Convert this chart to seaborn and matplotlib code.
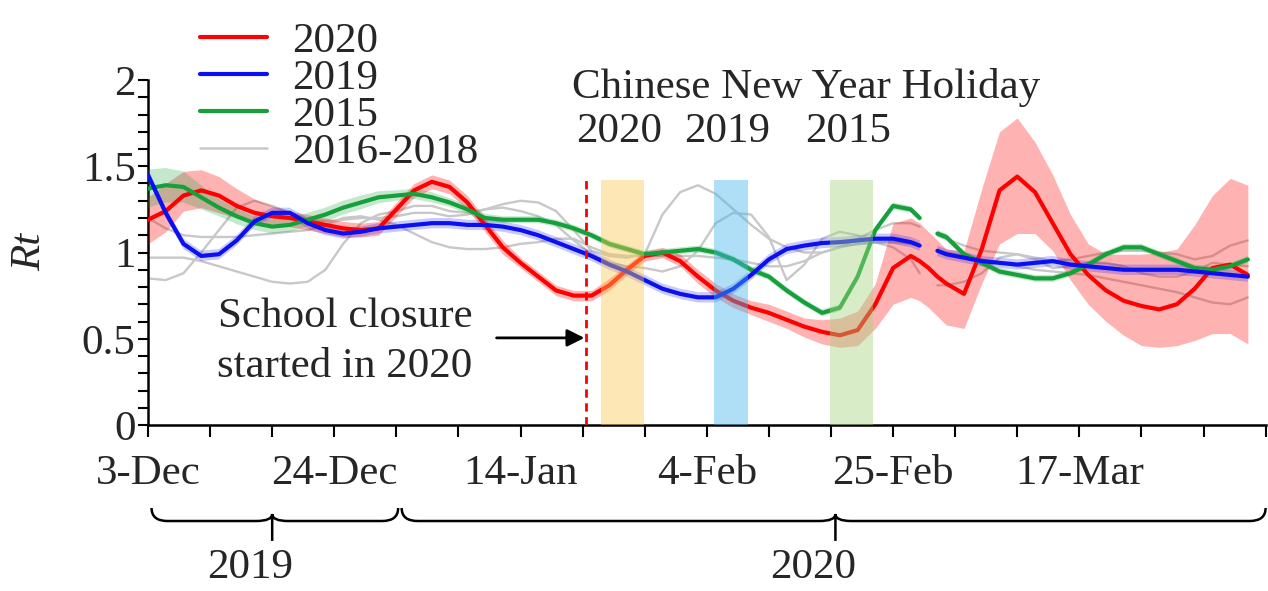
import numpy as np
import pandas as pd
import matplotlib
matplotlib.use("Agg")
import matplotlib.pyplot as plt
import matplotlib.transforms as mtransforms
from matplotlib.path import Path
from matplotlib.patches import PathPatch
from matplotlib.lines import Line2D
import seaborn as sns

NaN = np.nan

# Days since 3 Dec 2019 (two-day grid, single days around 29 Feb)
days = list(range(0, 87, 2)) + [87, 88, 89] + list(range(90, 125, 2))

rt_2020 = [1.19, 1.24, 1.33, 1.36, 1.33, 1.27, 1.23, 1.21, 1.20, 1.18,
           1.16, 1.14, 1.13, 1.14, 1.25, 1.36, 1.41, 1.38, 1.29, 1.16,
           1.03, 0.94, 0.86, 0.78, 0.75, 0.75, 0.81, 0.90, 0.98, 1.00,
           0.95, 0.86, 0.78, 0.72, 0.68, 0.65, 0.61, 0.57, 0.54, 0.52,
           0.55, 0.70, 0.91, 0.98, 0.95, 0.91, 0.86, 0.82, 0.76, 1.02,
           1.36, 1.44, 1.35, 1.17, 0.99, 0.87, 0.78, 0.72, 0.69, 0.67,
           0.70, 0.79, 0.91, 0.93, 0.87]
rt_2020_high = [1.32, 1.40, 1.47, 1.48, 1.44, 1.37, 1.31, 1.27, 1.24, 1.22,
                1.20, 1.18, 1.17, 1.18, 1.29, 1.40, 1.45, 1.42, 1.33, 1.20,
                1.07, 0.97, 0.89, 0.81, 0.78, 0.78, 0.85, 0.93, 1.01, 1.03,
                0.99, 0.90, 0.82, 0.76, 0.72, 0.70, 0.66, 0.62, 0.61, 0.62,
                0.66, 0.82, 1.17, 1.20, 1.17, 1.12, 1.07, 1.02, 1.01, 1.37,
                1.70, 1.78, 1.64, 1.45, 1.22, 1.05, 0.99, 0.99, 0.99, 1.00,
                1.02, 1.16, 1.33, 1.43, 1.39]
rt_2020_low = [1.05, 1.12, 1.24, 1.26, 1.23, 1.20, 1.17, 1.16, 1.15, 1.13,
               1.11, 1.09, 1.09, 1.10, 1.21, 1.32, 1.37, 1.34, 1.25, 1.12,
               0.99, 0.91, 0.83, 0.75, 0.72, 0.72, 0.78, 0.87, 0.95, 0.97,
               0.92, 0.82, 0.74, 0.68, 0.64, 0.60, 0.56, 0.51, 0.47, 0.45,
               0.46, 0.56, 0.70, 0.74, 0.72, 0.68, 0.63, 0.58, 0.56, 0.82,
               1.05, 1.11, 1.11, 1.01, 0.84, 0.70, 0.60, 0.52, 0.46, 0.45,
               0.46, 0.49, 0.53, 0.53, 0.47]

rt_2019 = [1.45, 1.23, 1.05, 0.98, 0.99, 1.07, 1.18, 1.23, 1.23, 1.17,
           1.13, 1.11, 1.12, 1.14, 1.15, 1.16, 1.17, 1.17, 1.16, 1.16,
           1.15, 1.13, 1.10, 1.06, 1.02, 0.98, 0.93, 0.89, 0.84, 0.79,
           0.76, 0.74, 0.74, 0.79, 0.87, 0.96, 1.02, 1.04, 1.055, 1.06,
           1.07, 1.08, 1.08, 1.06, 1.04, NaN, 1.01, 0.99, 0.97, 0.95,
           0.94, 0.93, 0.94, 0.95, 0.93, 0.92, 0.91, 0.90, 0.90, 0.90,
           0.90, 0.89, 0.88, 0.87, 0.86]
ci_2019 = 0.03

rt_2015 = [1.37, 1.39, 1.38, 1.32, 1.26, 1.21, 1.17, 1.15, 1.16, 1.19,
           1.22, 1.26, 1.29, 1.32, 1.33, 1.34, 1.32, 1.29, 1.25, 1.20,
           1.19, 1.19, 1.19, 1.17, 1.14, 1.10, 1.05, 1.02, 0.99, 1.00,
           1.01, 1.02, 1.00, 0.96, 0.90, 0.86, 0.78, 0.71, 0.65, 0.68,
           0.86, 1.13, 1.27, 1.25, 1.20, NaN, 1.11, 1.09, 0.99, 0.94,
           0.89, 0.87, 0.85, 0.85, 0.88, 0.93, 0.99, 1.03, 1.03, 0.99,
           0.95, 0.91, 0.90, 0.92, 0.96]
ci_2015 = [0.11, 0.10, 0.09, 0.07, 0.05, 0.045, 0.04, 0.04, 0.04, 0.04,
           0.04, 0.04, 0.04, 0.035, 0.03, 0.03, 0.03, 0.025, 0.025, 0.025,
           0.02, 0.02, 0.02, 0.02, 0.02, 0.02, 0.02, 0.02, 0.02, 0.02,
           0.02, 0.02, 0.02, 0.02, 0.02, 0.02, 0.02, 0.02, 0.02, 0.02,
           0.02, 0.02, 0.02, 0.02, 0.02, NaN, 0.02, 0.02, 0.02, 0.02,
           0.02, 0.02, 0.02, 0.02, 0.02, 0.02, 0.02, 0.02, 0.02, 0.02,
           0.02, 0.02, 0.02, 0.02, 0.02]

rt_2016 = [0.97, 0.97, 0.97, 0.95, 0.92, 0.89, 0.86, 0.83, 0.82, 0.83,
           0.90, 1.05, 1.17, 1.22, 1.24, 1.27, 1.27, 1.24, 1.23, 1.25,
           1.28, 1.30, 1.29, 1.24, 1.13, 1.01, 0.98, 0.97, 0.99, 1.22,
           1.35, 1.39, 1.34, 1.25, 1.16, 1.08, 1.03, 1.00, 1.00, 1.03,
           1.08, 1.13, 1.17, 1.17, 1.15, NaN, 1.10, 1.08, 1.04, 1.01,
           1.00, 0.99, 0.97, 0.95, 0.96, 0.98, 1.00, 1.01, 1.01, 1.00,
           0.99, 0.96, 0.98, 1.04, 1.07]
rt_2017 = [0.85, 0.84, 0.88, 1.00, 1.13, 1.26, 1.30, 1.27, 1.23, 1.19,
           1.18, 1.19, 1.20, 1.20, 1.21, 1.23, 1.23, 1.21, 1.22, 1.25,
           1.26, 1.24, 1.21, 1.16, 1.07, 0.99, 0.94, 0.92, 0.91, 0.89,
           0.92, 1.01, 1.17, 1.23, 1.22, 1.09, 0.84, 0.93, 1.08, 1.12,
           1.10, 1.06, 1.03, 0.96, 0.88, NaN, 0.81, 0.81, 0.83, 0.88,
           0.97, 0.99, 0.96, 0.91, 0.92, 0.94, 0.94, 0.92, 0.88, 0.86,
           0.86, 0.89, 0.94, 0.93, 0.92]
rt_2018 = [1.20, 1.14, 1.10, 1.09, 1.09, 1.09, 1.10, 1.11, 1.12, 1.13,
           1.16, 1.20, 1.21, 1.19, 1.16, 1.11, 1.06, 1.03, 1.02, 1.02,
           1.03, 1.05, 1.06, 1.08, 1.08, 1.03, 0.99, 0.98, 0.98, 0.98,
           0.98, 0.98, 0.97, 0.96, 0.94, 0.92, 0.92, 0.95, 1.00, 1.03,
           1.05, 1.06, 1.06, 1.05, 1.04, NaN, 1.01, 1.00, 0.98, 0.96,
           0.94, 0.92, 0.90, 0.89, 0.88, 0.87, 0.85, 0.83, 0.81, 0.79,
           0.77, 0.74, 0.71, 0.70, 0.74]

tick_days = [0, 21, 42, 63, 84, 105]
tick_labels = ["3-Dec", "24-Dec", "14-Jan", "4-Feb", "25-Feb", "17-Mar"]
closure_day = 49.4
holidays = [("2020", 51.1, 55.9, "#f9c74f"),
            ("2019", 63.8, 67.6, "#3fb5ea"),
            ("2015", 76.9, 81.7, "#a6d47e")]
season_groups = [("2019", 0.4, 28.2, 14.0), ("2020", 28.6, 126.0, 77.5)]

RED, BLUE, GREEN, GRAY = "#ff0000", "#0a10f0", "#16a03c", "#c8c8c8"

sns.set_theme(style="ticks")
plt.rcParams["font.family"] = ["Liberation Serif", "DejaVu Serif"]
FS = 31

fig = plt.figure(figsize=(12.68, 5.91), dpi=100)
ax = fig.add_axes([148 / 1268, 1 - 425 / 591, (1265.6 - 148) / 1268, 345 / 591])


def segments(name, values):
    """Long-format rows, split into separate units where a value is missing."""
    rows, seg = [], 0
    for d, v in zip(days, values):
        if np.isnan(v):
            seg += 1
            continue
        rows.append({"day": d, "rt": v, "series": name, "unit": f"{name}-{seg}"})
    return rows


gray_df = pd.DataFrame(segments("2016", rt_2016) + segments("2017", rt_2017)
                       + segments("2018", rt_2018))
sns.lineplot(data=gray_df, x="day", y="rt", units="unit", estimator=None,
             color=GRAY, lw=1.7, sort=False, ax=ax, legend=False, zorder=2,
             solid_joinstyle="round", solid_capstyle="round")

d_arr = np.array(days, dtype=float)
ax.fill_between(d_arr, rt_2020_low, rt_2020_high, color=RED, alpha=0.3, lw=0, zorder=3)
b = np.array(rt_2019)
ax.fill_between(d_arr, b - ci_2019, b + ci_2019, color=BLUE, alpha=0.22, lw=0, zorder=3)
g = np.array(rt_2015)
gc = np.array(ci_2015)
ax.fill_between(d_arr, g - gc, g + gc, color=GREEN, alpha=0.25, lw=0, zorder=3)

main_df = pd.DataFrame(segments("2020", rt_2020) + segments("2015", rt_2015)
                       + segments("2019", rt_2019))
sns.lineplot(data=main_df, x="day", y="rt", hue="series", units="unit",
             estimator=None, hue_order=["2020", "2015", "2019"],
             palette={"2020": RED, "2019": BLUE, "2015": GREEN},
             lw=3, sort=False, ax=ax, legend=False, zorder=4,
             solid_joinstyle="round", solid_capstyle="round")

# Chinese New Year holiday windows (translucent, over the curves)
for label, start, end, col in holidays:
    ax.axvspan(start, end, ymin=0, ymax=1.42 / 2, color=col, alpha=0.42, lw=0, zorder=5)
    ax.text((start + end) / 2 - 0.4, 1.64, label, ha="center", va="baseline", fontsize=FS)
ax.text(47.8, 1.895, "Chinese New Year Holiday", ha="left", va="baseline", fontsize=FS)

# School closure marker
ax.vlines(closure_day, 0, 1.42, colors=RED, linestyles=(0, (3, 2)), lw=2, zorder=6)
ax.annotate("", xy=(closure_day - 0.2, 0.505), xytext=(39.3, 0.505),
            arrowprops=dict(arrowstyle="-|>", color="black", lw=2,
                            mutation_scale=26, shrinkA=0, shrinkB=0))
ax.text(22.2, 0.568, "School closure", ha="center", va="baseline", fontsize=FS)
ax.text(22.2, 0.278, "started in 2020", ha="center", va="baseline", fontsize=FS)

# Axes
ax.set_xlim(0, 126)
ax.set_ylim(0, 2)
ax.set_xticks(tick_days)
ax.set_xticklabels(tick_labels)
ax.set_xticks(np.arange(0, 127, 7), minor=True)
ax.set_yticks([0, 0.5, 1, 1.5, 2])
ax.set_yticklabels(["0", "0.5", "1", "1.5", "2"])
ax.set_yticks(np.arange(0, 2.01, 0.1), minor=True)
ax.tick_params(axis="x", which="both", direction="out", length=8.5, width=1.5,
               color="black", labelsize=FS, pad=13)
ax.tick_params(axis="y", which="both", direction="out", length=7, width=1.5,
               color="black", labelsize=FS, pad=2)
ax.set_xlabel("")
ax.set_ylabel("")
for side in ("left", "bottom"):
    ax.spines[side].set_linewidth(1.8)
    ax.spines[side].set_color("black")
sns.despine(ax=ax)
ax.set_facecolor("white")

fig.text(30 / 1268, 1 - 252 / 591, "Rt", rotation=90, style="italic",
         ha="center", va="center", fontsize=FS)

# Season braces under the date axis
trans = mtransforms.blended_transform_factory(ax.transData, ax.transAxes)
yt, ym, yk, ytip = -0.2406, -0.2783, -0.258, -0.336
r = 1.8
for label, x0, x1, xm in season_groups:
    verts = [(x0, yt), (x0, ym), (x0 + r, ym),
             (xm - r, ym),
             (xm, ym), (xm, yk),
             (xm, ytip),
             (xm, yk),
             (xm, ym), (xm + r, ym),
             (x1 - r, ym),
             (x1, ym), (x1, yt)]
    codes = [Path.MOVETO, Path.CURVE3, Path.CURVE3,
             Path.LINETO,
             Path.CURVE3, Path.CURVE3,
             Path.LINETO,
             Path.MOVETO,
             Path.CURVE3, Path.CURVE3,
             Path.LINETO,
             Path.CURVE3, Path.CURVE3]
    ax.add_patch(PathPatch(Path(verts, codes), fill=False, lw=1.8, color="black",
                           transform=trans, clip_on=False))
    ax.text(xm - 2.5, -0.414, label, transform=trans, ha="center", va="center",
            fontsize=FS)

# Legend
handles = [Line2D([], [], color=RED, lw=3),
           Line2D([], [], color=BLUE, lw=3),
           Line2D([], [], color=GREEN, lw=3),
           Line2D([], [], color=GRAY, lw=1.8)]
fig.legend(handles, ["2020", "2019", "2015", "2016-2018"], loc="upper left",
           bbox_to_anchor=(200 / 1268, 1 - 22 / 591), frameon=False,
           fontsize=FS, handlelength=1.55, handletextpad=0.6,
           labelspacing=-0.05, borderpad=0, borderaxespad=0)

fig.savefig("out.png", dpi=100, facecolor="white")
